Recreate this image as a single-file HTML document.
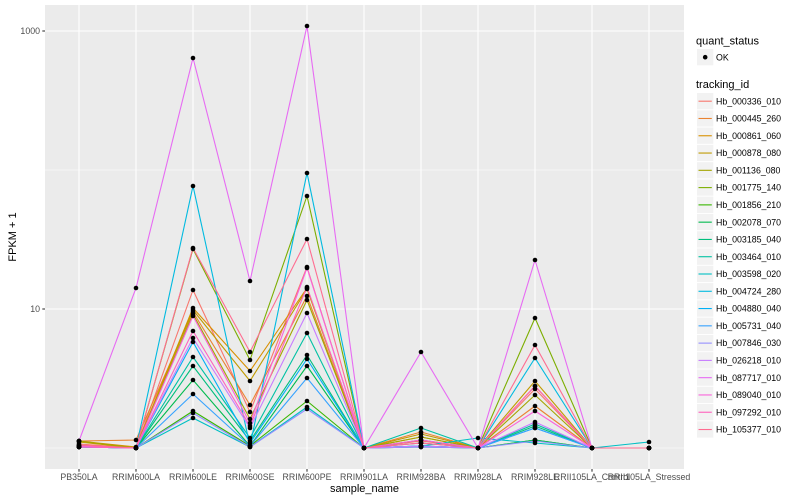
<!DOCTYPE html>
<html><head><meta charset="utf-8"><style>
html,body{margin:0;padding:0;background:#fff;}
svg{display:block;font-family:"Liberation Sans",Arial,sans-serif;}
</style></head><body>
<svg width="800" height="500" viewBox="0 0 800 500" xmlns="http://www.w3.org/2000/svg">
<defs>
<clipPath id="pc"><rect x="45" y="5" width="639" height="464"/></clipPath>
<marker id="dot" markerUnits="userSpaceOnUse" markerWidth="6" markerHeight="6" refX="3" refY="3" viewBox="0 0 6 6"><circle cx="3" cy="3" r="2.3" fill="#000"/></marker>
</defs>
<rect x="0" y="0" width="800" height="500" fill="#fff"/>
<rect x="45" y="5" width="639" height="464" fill="#EBEBEB"/>
<g stroke="#fff" fill="none">
<line x1="45" x2="684" y1="170" y2="170" stroke-width="0.55"/>
<line x1="45" x2="684" y1="448" y2="448" stroke-width="0.55"/>
<line x1="45" x2="684" y1="31" y2="31" stroke-width="1.1"/>
<line x1="45" x2="684" y1="309" y2="309" stroke-width="1.1"/>
<g stroke-width="1.1">
<line x1="79" x2="79" y1="5" y2="469"/><line x1="136" x2="136" y1="5" y2="469"/><line x1="193" x2="193" y1="5" y2="469"/><line x1="250" x2="250" y1="5" y2="469"/><line x1="307" x2="307" y1="5" y2="469"/><line x1="364" x2="364" y1="5" y2="469"/><line x1="421" x2="421" y1="5" y2="469"/><line x1="478" x2="478" y1="5" y2="469"/><line x1="535" x2="535" y1="5" y2="469"/><line x1="592" x2="592" y1="5" y2="469"/><line x1="649" x2="649" y1="5" y2="469"/>
</g></g>
<g clip-path="url(#pc)" fill="none" stroke-width="1.1" stroke-linejoin="round">
<polyline stroke="#F8766D" points="79,444 136,448 193,290 250,412 307,267 364,448 421,441 478,448 535,389 592,448 649,448"/>
<polyline stroke="#EA8331" points="79,441 136,440 193,312 250,405 307,296 364,448 421,432 478,448 535,406 592,448 649,448"/>
<polyline stroke="#D89000" points="79,441 136,447 193,308 250,371 307,288 364,448 421,437 478,448 535,386 592,448 649,448"/>
<polyline stroke="#C09B00" points="79,442 136,448 193,310 250,381 307,289 364,448 421,434 478,448 535,381 592,448 649,448"/>
<polyline stroke="#A3A500" points="79,441 136,448 193,314 250,419 307,300 364,448 421,437 478,448 535,395 592,448 649,448"/>
<polyline stroke="#7CAE00" points="79,446 136,448 193,249 250,360 307,196 364,448 421,440 478,448 535,318 592,448 649,448"/>
<polyline stroke="#39B600" points="79,447 136,448 193,411 250,446 307,401 364,448 421,447 478,448 535,440 592,448 649,448"/>
<polyline stroke="#00BB4E" points="79,447 136,448 193,380 250,446 307,366 364,448 421,446 478,448 535,440 592,448 649,448"/>
<polyline stroke="#00BF7D" points="79,446 136,448 193,366 250,441 307,355 364,448 421,443 478,448 535,426 592,448 649,448"/>
<polyline stroke="#00C1A3" points="79,446 136,448 193,357 250,438 307,333 364,448 421,428 478,448 535,424 592,448 649,448"/>
<polyline stroke="#00BFC4" points="79,447 136,448 193,418 250,447 307,407 364,448 421,446 478,438 535,443 592,448 649,442"/>
<polyline stroke="#00BAE0" points="79,447 136,448 193,186 250,446 307,173 364,448 421,446 478,448 535,358 592,448 649,448"/>
<polyline stroke="#00B0F6" points="79,447 136,448 193,342 250,443 307,359 364,448 421,446 478,448 535,428 592,448 649,448"/>
<polyline stroke="#35A2FF" points="79,447 136,448 193,394 250,446 307,378 364,448 421,447 478,448 535,428 592,448 649,448"/>
<polyline stroke="#9590FF" points="79,447 136,448 193,413 250,447 307,409 364,448 421,447 478,448 535,441 592,448 649,448"/>
<polyline stroke="#C77CFF" points="79,447 136,448 193,338 250,428 307,313 364,448 421,446 478,448 535,422 592,448 649,448"/>
<polyline stroke="#E76BF3" points="79,441 136,288 193,58 250,281 307,26 364,448 421,352 478,448 535,260 592,448 649,448"/>
<polyline stroke="#FA62DB" points="79,446 136,448 193,316 250,423 307,268 364,448 421,440 478,448 535,411 592,448 649,448"/>
<polyline stroke="#FF62BC" points="79,447 136,448 193,331 250,426 307,287 364,448 421,443 478,448 535,386 592,448 649,448"/>
<polyline stroke="#FF6C91" points="79,445 136,448 193,248 250,352 307,239 364,448 421,443 478,448 535,345 592,448 649,448"/>
</g>
<g fill="none" stroke="none" marker-start="url(#dot)" marker-mid="url(#dot)" marker-end="url(#dot)">
<polyline points="79,444 136,448 193,290 250,412 307,267 364,448 421,441 478,448 535,389 592,448 649,448"/>
<polyline points="79,441 136,440 193,312 250,405 307,296 364,448 421,432 478,448 535,406 592,448 649,448"/>
<polyline points="79,441 136,447 193,308 250,371 307,288 364,448 421,437 478,448 535,386 592,448 649,448"/>
<polyline points="79,442 136,448 193,310 250,381 307,289 364,448 421,434 478,448 535,381 592,448 649,448"/>
<polyline points="79,441 136,448 193,314 250,419 307,300 364,448 421,437 478,448 535,395 592,448 649,448"/>
<polyline points="79,446 136,448 193,249 250,360 307,196 364,448 421,440 478,448 535,318 592,448 649,448"/>
<polyline points="79,447 136,448 193,411 250,446 307,401 364,448 421,447 478,448 535,440 592,448 649,448"/>
<polyline points="79,447 136,448 193,380 250,446 307,366 364,448 421,446 478,448 535,440 592,448 649,448"/>
<polyline points="79,446 136,448 193,366 250,441 307,355 364,448 421,443 478,448 535,426 592,448 649,448"/>
<polyline points="79,446 136,448 193,357 250,438 307,333 364,448 421,428 478,448 535,424 592,448 649,448"/>
<polyline points="79,447 136,448 193,418 250,447 307,407 364,448 421,446 478,438 535,443 592,448 649,442"/>
<polyline points="79,447 136,448 193,186 250,446 307,173 364,448 421,446 478,448 535,358 592,448 649,448"/>
<polyline points="79,447 136,448 193,342 250,443 307,359 364,448 421,446 478,448 535,428 592,448 649,448"/>
<polyline points="79,447 136,448 193,394 250,446 307,378 364,448 421,447 478,448 535,428 592,448 649,448"/>
<polyline points="79,447 136,448 193,413 250,447 307,409 364,448 421,447 478,448 535,441 592,448 649,448"/>
<polyline points="79,447 136,448 193,338 250,428 307,313 364,448 421,446 478,448 535,422 592,448 649,448"/>
<polyline points="79,441 136,288 193,58 250,281 307,26 364,448 421,352 478,448 535,260 592,448 649,448"/>
<polyline points="79,446 136,448 193,316 250,423 307,268 364,448 421,440 478,448 535,411 592,448 649,448"/>
<polyline points="79,447 136,448 193,331 250,426 307,287 364,448 421,443 478,448 535,386 592,448 649,448"/>
<polyline points="79,445 136,448 193,248 250,352 307,239 364,448 421,443 478,448 535,345 592,448 649,448"/>
</g>
<!-- axes ticks -->
<g stroke="#333" stroke-width="1.07">
<line x1="42.3" x2="45" y1="31" y2="31"/><line x1="42.3" x2="45" y1="309" y2="309"/>
<line x1="79" x2="79" y1="469" y2="471.7"/><line x1="136" x2="136" y1="469" y2="471.7"/><line x1="193" x2="193" y1="469" y2="471.7"/><line x1="250" x2="250" y1="469" y2="471.7"/><line x1="307" x2="307" y1="469" y2="471.7"/><line x1="364" x2="364" y1="469" y2="471.7"/><line x1="421" x2="421" y1="469" y2="471.7"/><line x1="478" x2="478" y1="469" y2="471.7"/><line x1="535" x2="535" y1="469" y2="471.7"/><line x1="592" x2="592" y1="469" y2="471.7"/><line x1="649" x2="649" y1="469" y2="471.7"/>
</g>
<g font-size="8.8" fill="#4D4D4D">
<text x="40" y="34.2" text-anchor="end">1000</text>
<text x="40" y="312.2" text-anchor="end">10</text>
<g text-anchor="middle">
<text x="79" y="480">PB350LA</text>
<text x="136" y="480">RRIM600LA</text>
<text x="193" y="480">RRIM600LE</text>
<text x="250" y="480">RRIM600SE</text>
<text x="307" y="480">RRIM600PE</text>
<text x="364" y="480">RRIM901LA</text>
<text x="421" y="480">RRIM928BA</text>
<text x="478" y="480">RRIM928LA</text>
<text x="535" y="480">RRIM928LE</text>
<text x="592" y="480">RRII105LA_Control</text>
<text x="649" y="480">RRII105LA_Stressed</text>
</g></g>
<text x="364.5" y="492" font-size="11" text-anchor="middle" fill="#000">sample_name</text>
<text transform="translate(16,237) rotate(-90)" font-size="11" text-anchor="middle" fill="#000">FPKM + 1</text>
<!-- legend -->
<text x="696" y="44.5" font-size="11" fill="#000">quant_status</text>
<rect x="697" y="49" width="16.3" height="16.3" fill="#F2F2F2"/>
<circle cx="705.2" cy="57.2" r="2.3" fill="#000"/>
<text x="716" y="60.3" font-size="8.8" fill="#000">OK</text>
<text x="696" y="88" font-size="11" fill="#000">tracking_id</text>
<g font-size="8.8" fill="#000">
<g transform="translate(0,0)"><rect x="697" y="93" width="16.3" height="16.3" fill="#F2F2F2"/><line x1="698.5" x2="711.8" y1="101.2" y2="101.2" stroke="#F8766D" stroke-width="1.1"/><text x="716" y="104.3">Hb_000336_010</text></g>
<g transform="translate(0,17.28)"><rect x="697" y="93" width="16.3" height="16.3" fill="#F2F2F2"/><line x1="698.5" x2="711.8" y1="101.2" y2="101.2" stroke="#EA8331" stroke-width="1.1"/><text x="716" y="104.3">Hb_000445_260</text></g>
<g transform="translate(0,34.56)"><rect x="697" y="93" width="16.3" height="16.3" fill="#F2F2F2"/><line x1="698.5" x2="711.8" y1="101.2" y2="101.2" stroke="#D89000" stroke-width="1.1"/><text x="716" y="104.3">Hb_000861_060</text></g>
<g transform="translate(0,51.84)"><rect x="697" y="93" width="16.3" height="16.3" fill="#F2F2F2"/><line x1="698.5" x2="711.8" y1="101.2" y2="101.2" stroke="#C09B00" stroke-width="1.1"/><text x="716" y="104.3">Hb_000878_080</text></g>
<g transform="translate(0,69.12)"><rect x="697" y="93" width="16.3" height="16.3" fill="#F2F2F2"/><line x1="698.5" x2="711.8" y1="101.2" y2="101.2" stroke="#A3A500" stroke-width="1.1"/><text x="716" y="104.3">Hb_001136_080</text></g>
<g transform="translate(0,86.4)"><rect x="697" y="93" width="16.3" height="16.3" fill="#F2F2F2"/><line x1="698.5" x2="711.8" y1="101.2" y2="101.2" stroke="#7CAE00" stroke-width="1.1"/><text x="716" y="104.3">Hb_001775_140</text></g>
<g transform="translate(0,103.68)"><rect x="697" y="93" width="16.3" height="16.3" fill="#F2F2F2"/><line x1="698.5" x2="711.8" y1="101.2" y2="101.2" stroke="#39B600" stroke-width="1.1"/><text x="716" y="104.3">Hb_001856_210</text></g>
<g transform="translate(0,120.96)"><rect x="697" y="93" width="16.3" height="16.3" fill="#F2F2F2"/><line x1="698.5" x2="711.8" y1="101.2" y2="101.2" stroke="#00BB4E" stroke-width="1.1"/><text x="716" y="104.3">Hb_002078_070</text></g>
<g transform="translate(0,138.24)"><rect x="697" y="93" width="16.3" height="16.3" fill="#F2F2F2"/><line x1="698.5" x2="711.8" y1="101.2" y2="101.2" stroke="#00BF7D" stroke-width="1.1"/><text x="716" y="104.3">Hb_003185_040</text></g>
<g transform="translate(0,155.52)"><rect x="697" y="93" width="16.3" height="16.3" fill="#F2F2F2"/><line x1="698.5" x2="711.8" y1="101.2" y2="101.2" stroke="#00C1A3" stroke-width="1.1"/><text x="716" y="104.3">Hb_003464_010</text></g>
<g transform="translate(0,172.8)"><rect x="697" y="93" width="16.3" height="16.3" fill="#F2F2F2"/><line x1="698.5" x2="711.8" y1="101.2" y2="101.2" stroke="#00BFC4" stroke-width="1.1"/><text x="716" y="104.3">Hb_003598_020</text></g>
<g transform="translate(0,190.08)"><rect x="697" y="93" width="16.3" height="16.3" fill="#F2F2F2"/><line x1="698.5" x2="711.8" y1="101.2" y2="101.2" stroke="#00BAE0" stroke-width="1.1"/><text x="716" y="104.3">Hb_004724_280</text></g>
<g transform="translate(0,207.36)"><rect x="697" y="93" width="16.3" height="16.3" fill="#F2F2F2"/><line x1="698.5" x2="711.8" y1="101.2" y2="101.2" stroke="#00B0F6" stroke-width="1.1"/><text x="716" y="104.3">Hb_004880_040</text></g>
<g transform="translate(0,224.64)"><rect x="697" y="93" width="16.3" height="16.3" fill="#F2F2F2"/><line x1="698.5" x2="711.8" y1="101.2" y2="101.2" stroke="#35A2FF" stroke-width="1.1"/><text x="716" y="104.3">Hb_005731_040</text></g>
<g transform="translate(0,241.92)"><rect x="697" y="93" width="16.3" height="16.3" fill="#F2F2F2"/><line x1="698.5" x2="711.8" y1="101.2" y2="101.2" stroke="#9590FF" stroke-width="1.1"/><text x="716" y="104.3">Hb_007846_030</text></g>
<g transform="translate(0,259.2)"><rect x="697" y="93" width="16.3" height="16.3" fill="#F2F2F2"/><line x1="698.5" x2="711.8" y1="101.2" y2="101.2" stroke="#C77CFF" stroke-width="1.1"/><text x="716" y="104.3">Hb_026218_010</text></g>
<g transform="translate(0,276.48)"><rect x="697" y="93" width="16.3" height="16.3" fill="#F2F2F2"/><line x1="698.5" x2="711.8" y1="101.2" y2="101.2" stroke="#E76BF3" stroke-width="1.1"/><text x="716" y="104.3">Hb_087717_010</text></g>
<g transform="translate(0,293.76)"><rect x="697" y="93" width="16.3" height="16.3" fill="#F2F2F2"/><line x1="698.5" x2="711.8" y1="101.2" y2="101.2" stroke="#FA62DB" stroke-width="1.1"/><text x="716" y="104.3">Hb_089040_010</text></g>
<g transform="translate(0,311.04)"><rect x="697" y="93" width="16.3" height="16.3" fill="#F2F2F2"/><line x1="698.5" x2="711.8" y1="101.2" y2="101.2" stroke="#FF62BC" stroke-width="1.1"/><text x="716" y="104.3">Hb_097292_010</text></g>
<g transform="translate(0,328.32)"><rect x="697" y="93" width="16.3" height="16.3" fill="#F2F2F2"/><line x1="698.5" x2="711.8" y1="101.2" y2="101.2" stroke="#FF6C91" stroke-width="1.1"/><text x="716" y="104.3">Hb_105377_010</text></g>
</g>
</svg>
</body></html>
